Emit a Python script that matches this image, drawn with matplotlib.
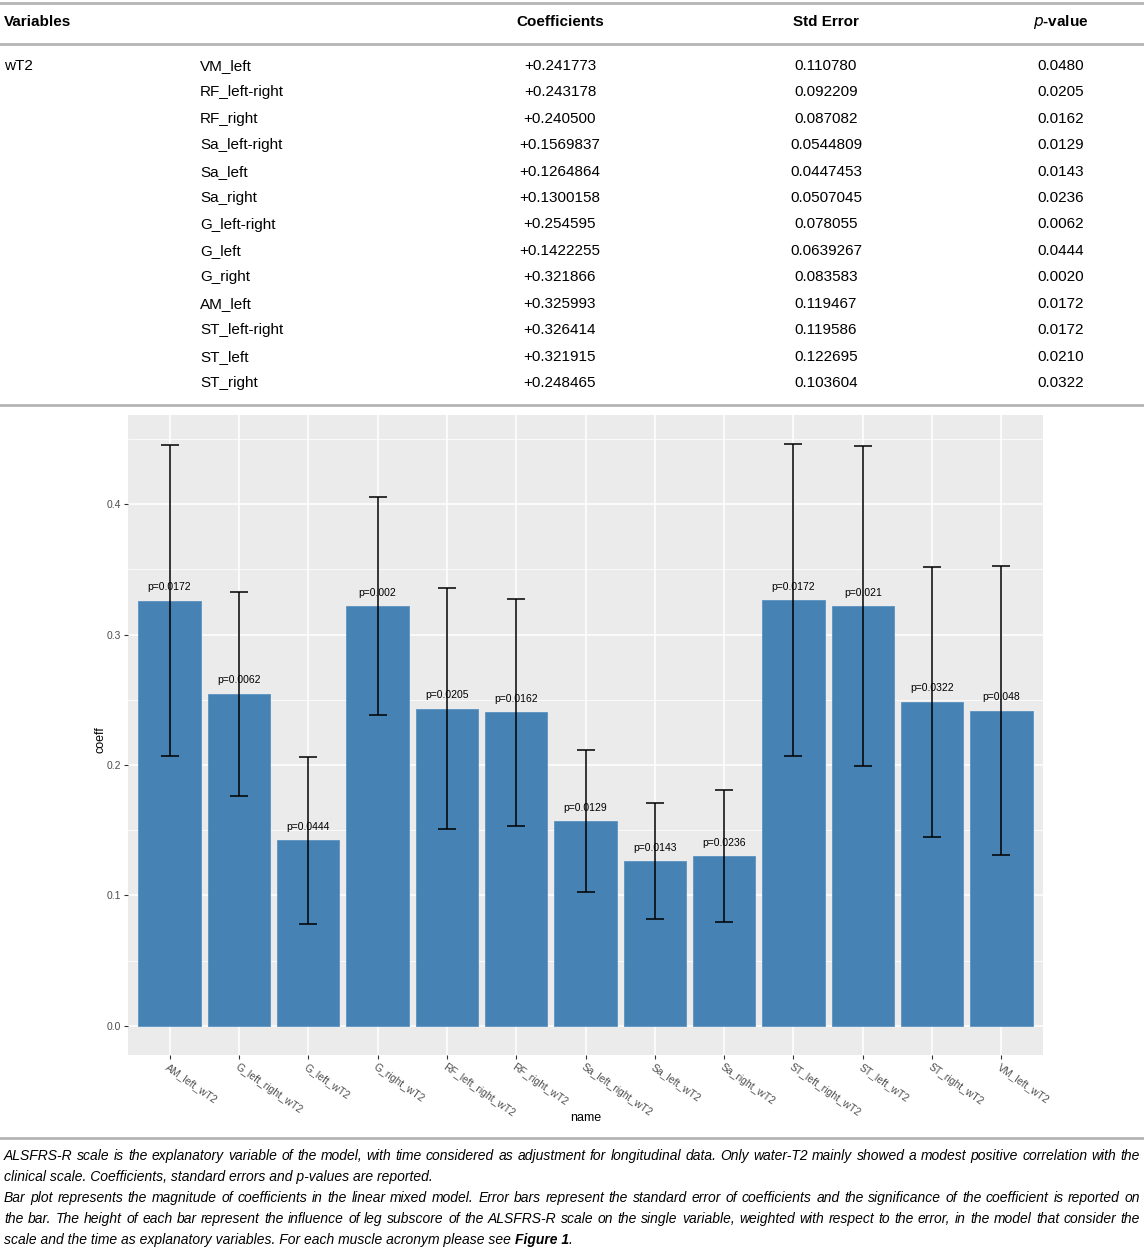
import matplotlib
matplotlib.use("Agg")
import matplotlib.pyplot as plt
import numpy as np

W, H = 1144, 1248
plt.rcParams["font.family"] = ["Liberation Sans", "DejaVu Sans"]

# table data (as printed)
group = "wT2"
variables = ["VM_left", "RF_left-right", "RF_right", "Sa_left-right", "Sa_left",
             "Sa_right", "G_left-right", "G_left", "G_right", "AM_left",
             "ST_left-right", "ST_left", "ST_right"]
coef_txt = ["0.241773", "0.243178", "0.240500", "0.1569837", "0.1264864",
            "0.1300158", "0.254595", "0.1422255", "0.321866", "0.325993",
            "0.326414", "0.321915", "0.248465"]
se_txt = ["0.110780", "0.092209", "0.087082", "0.0544809", "0.0447453",
          "0.0507045", "0.078055", "0.0639267", "0.083583", "0.119467",
          "0.119586", "0.122695", "0.103604"]
p_txt = ["0.0480", "0.0205", "0.0162", "0.0129", "0.0143", "0.0236", "0.0062",
         "0.0444", "0.0020", "0.0172", "0.0172", "0.0210", "0.0322"]

caption = [
    "ALSFRS-R scale is the explanatory variable of the model, with time considered as adjustment for longitudinal data. Only water-T2 mainly showed a modest positive correlation with the",
    "clinical scale. Coefficients, standard errors and p-values are reported.",
    "Bar plot represents the magnitude of coefficients in the linear mixed model. Error bars represent the standard error of coefficients and the significance of the coefficient is reported on",
    "the bar. The height of each bar represent the influence of leg subscore of the ALSFRS-R scale on the single variable, weighted with respect to the error, in the model that consider the",
]
justified = [True, False, True, True]
caption_last = "scale and the time as explanatory variables. For each muscle acronym please see "

fig = plt.figure(figsize=(W / 100, H / 100), dpi=100)


def fy(y):
    return 1 - y / H


def fx(x):
    return x / W


def hline(y, lw=2.0):
    fig.add_artist(plt.Line2D([0, 1], [fy(y), fy(y)], color="#b4b4b4", lw=lw))


# ---- table ----
hline(3)
hline(44)
hline(405)
hline(1138)
tsize = 11
fig.text(fx(4), fy(22), "Variables", fontsize=tsize, weight="bold", va="center")
fig.text(fx(560), fy(22), "Coefficients", fontsize=tsize, weight="bold", va="center", ha="center")
fig.text(fx(826), fy(22), "Std Error", fontsize=tsize, weight="bold", va="center", ha="center")
fig.text(fx(1061), fy(22), r"$\bf{\it{p}}$-value", fontsize=tsize, weight="bold", va="center", ha="center")

fig.text(fx(4), fy(66), group, fontsize=tsize, va="center")
row_y = np.linspace(66, 383, len(variables))
for i, v in enumerate(variables):
    fig.text(fx(200), fy(row_y[i]), v, fontsize=tsize, va="center")
    fig.text(fx(560), fy(row_y[i]), "+" + coef_txt[i], fontsize=tsize, va="center", ha="center")
    fig.text(fx(826), fy(row_y[i]), se_txt[i], fontsize=tsize, va="center", ha="center")
    fig.text(fx(1061), fy(row_y[i]), p_txt[i], fontsize=tsize, va="center", ha="center")

# ---- bar chart ----
coef = np.array([float(c) for c in coef_txt])
se = np.array([float(s) for s in se_txt])
pv = np.array([float(p) for p in p_txt])
names = [v.replace("-", "_") + "_wT2" for v in variables]
order = sorted(range(len(names)), key=lambda i: names[i].lower())

ax = fig.add_axes([128 / W, fy(1055), (1043 - 128) / W, (1055 - 415) / H])
ax.set_facecolor("#EBEBEB")
x = np.arange(len(order))
ax.bar(x, coef[order], width=0.9, color="#4682B4", edgecolor="#5b93c0", lw=0.6, zorder=3)
ax.errorbar(x, coef[order], yerr=se[order], fmt="none", ecolor="black",
            elinewidth=1.1, capsize=6.5, capthick=1.1, zorder=4)
for xi, i in zip(x, order):
    ax.annotate(f"p={pv[i]:g}", (xi, coef[i]), xytext=(0, 6), textcoords="offset points",
                ha="center", va="bottom", fontsize=7.5, zorder=5)

top = (coef + se).max()
pad = top * 0.05
ax.set_ylim(-pad, top + pad)
ax.set_xlim(-0.6, len(order) - 0.4)
ax.set_yticks([0.0, 0.1, 0.2, 0.3, 0.4])
ax.set_yticks([0.05, 0.15, 0.25, 0.35, 0.45], minor=True)
ax.set_xticks(x)
ax.set_xticklabels([names[i] for i in order], rotation=-35, ha="left", va="top",
                   rotation_mode="anchor", fontsize=7.5, color="#4D4D4D")
for lab in ax.get_yticklabels():
    lab.set_fontsize(7.5)
    lab.set_color("#4D4D4D")
ax.grid(which="major", color="white", lw=1.1, zorder=0)
ax.grid(which="minor", axis="y", color="white", lw=0.55, zorder=0)
ax.set_axisbelow(True)
ax.tick_params(which="major", length=3, color="#333333", width=0.8, pad=2)
ax.tick_params(which="minor", length=0)
for s in ax.spines.values():
    s.set_visible(False)
fig.text(fx(101), fy(740), "coeff", fontsize=9, rotation=90, ha="center", va="center")
fig.text(fx(586), fy(1118), "name", fontsize=9, ha="center", va="center")

# ---- caption ----
csize = 10.0
cap_y = [1156, 1177, 1198, 1219]
left, right = 4, 1140
renderer = fig.canvas.get_renderer()
for y, line, just in zip(cap_y, caption, justified):
    if not just:
        fig.text(fx(left), fy(y), line, fontsize=csize, style="italic", va="center")
        continue
    words = line.split(" ")
    arts = [fig.text(0, fy(y), w, fontsize=csize, style="italic", va="center") for w in words]
    widths = [a.get_window_extent(renderer).width for a in arts]
    gap = (right - left - sum(widths)) / (len(words) - 1)
    pos = left
    for a, w in zip(arts, widths):
        a.set_x(fx(pos))
        pos += w + gap

t = fig.text(fx(left), fy(1240), caption_last, fontsize=csize, style="italic", va="center")
bb = t.get_window_extent(renderer)
t2 = fig.text(bb.x1 / W, fy(1240), "Figure 1", fontsize=csize, style="italic",
              weight="bold", va="center")
bb2 = t2.get_window_extent(renderer)
fig.text(bb2.x1 / W, fy(1240), ".", fontsize=csize, style="italic", va="center")

fig.savefig("out.png", dpi=100)
